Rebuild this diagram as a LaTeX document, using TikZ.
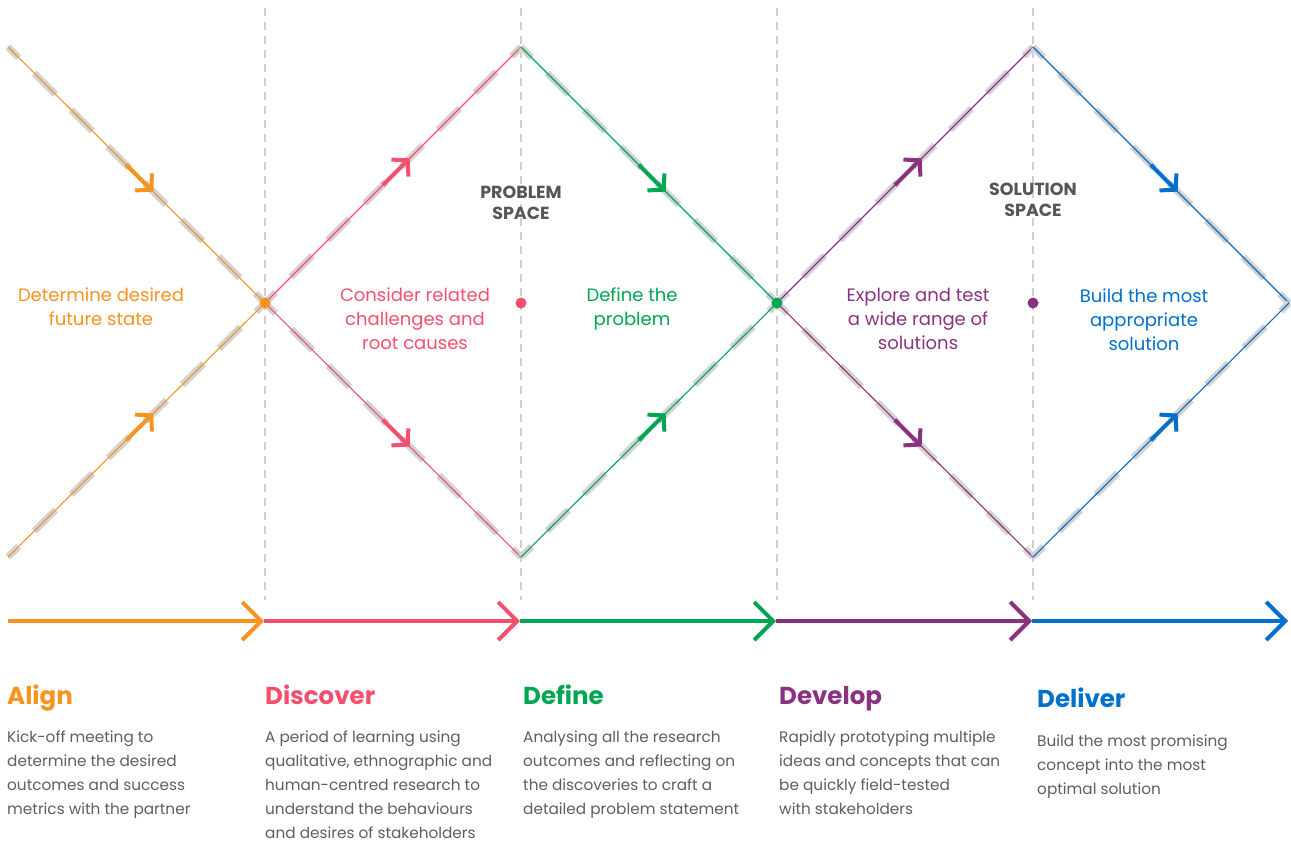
\documentclass[tikz,border=0pt]{standalone}
\usepackage{fontspec}
\setmainfont{Poppins}
\usetikzlibrary{arrows.meta,calc}
\definecolor{cOr}{HTML}{F7931E}
\definecolor{cPk}{HTML}{F4506E}
\definecolor{cGr}{HTML}{00A651}
\definecolor{cPu}{HTML}{8A327F}
\definecolor{cBl}{HTML}{0070CC}
\definecolor{cTx}{HTML}{5E5E5E}
\definecolor{cHd}{HTML}{53565A}
\definecolor{cDash}{HTML}{D3D3D3}
\definecolor{cVl}{HTML}{CFCFCF}
\tikzset{
  vline/.style={cVl, line width=1.5pt, dash pattern=on 8pt off 6pt},
  graydash/.style={cDash, line width=7pt, dash pattern=on 30pt off 22pt, dash phase=15pt},
  thinline/.style={line width=1.1pt},
  midarrow/.style={line width=4pt, -{Straight Barb[length=11pt,width=24pt]}},
  botarrow/.style={line width=4pt, -{Straight Barb[length=19pt,width=38pt]}},
  dtext/.style={anchor=base, align=center, font=\fontsize{18}{24}\selectfont, inner sep=0pt},
  htext/.style={anchor=base, align=center, font=\fontsize{17.5}{21}\selectfont\bfseries, text=cHd, inner sep=0pt},
  headtext/.style={anchor=base west, font=\fontsize{24.5}{28}\selectfont\bfseries, inner sep=0pt},
  bodytext/.style={anchor=base west, align=left, font=\fontsize{15.3}{24}\selectfont, text=cTx, inner sep=0pt},
  dot/.style={circle, minimum size=11pt, inner sep=0pt}
}
\newcommand{\segline}[3]{%
  \draw[graydash] (#2) -- (#3);
  \draw[thinline, #1] (#2) -- (#3);
  \draw[midarrow, #1] ($(#2)!0.46!(#3)$) -- ($(#2)!0.565!(#3)$);
}
\begin{document}
\begin{tikzpicture}[x=1pt,y=-1pt]
\useasboundingbox (0,0) rectangle (1291,841);
% vertical dashed lines
\foreach \x/\n in {265/1,521/2,777/3,1033/4}{
  \coordinate (vt\n) at (\x,8);
  \coordinate (vb\n) at (\x,600);
  \draw[vline] (vt\n) -- (vb\n);
}
% key points
\coordinate (L1) at (8,47);
\coordinate (L2) at (8,557);
\coordinate (X0) at (265,303);
\coordinate (T1) at (521,47);
\coordinate (B1) at (521,557);
\coordinate (X1) at (777,303);
\coordinate (T2) at (1033,47);
\coordinate (B2) at (1033,557);
\coordinate (R) at (1289,303);
\coordinate (C1) at (521,303);
\coordinate (C2) at (1033,303);
% diagonal segments
\segline{cOr}{L1}{X0}
\segline{cOr}{L2}{X0}
\segline{cPk}{X0}{T1}
\segline{cPk}{X0}{B1}
\segline{cGr}{T1}{X1}
\segline{cGr}{B1}{X1}
\segline{cPu}{X1}{T2}
\segline{cPu}{X1}{B2}
\segline{cBl}{T2}{R}
\segline{cBl}{B2}{R}
% dots
\node[dot, fill=cOr] (d0) at (X0) {};
\node[dot, fill=cPk] (d1) at (C1) {};
\node[dot, fill=cGr] (d2) at (X1) {};
\node[dot, fill=cPu] (d3) at (C2) {};
% diamond texts (anchor = baseline of last line)
\node[dtext, text=cOr] (t0) at (101,325) {Determine desired\\future state};
\node[dtext, text=cPk] (t1) at (415,349) {Consider related\\challenges and\\root causes};
\node[dtext, text=cGr] (t2) at (632,325) {Define the\\problem};
\node[dtext, text=cPu] (t3) at (918,349) {Explore and test\\a wide range of\\solutions};
\node[dtext, text=cBl] (t4) at (1144,350) {Build the most\\appropriate\\solution};
\node[htext] (ps) at (521,219) {PROBLEM\\SPACE};
\node[htext] (ss) at (1033,216) {SOLUTION\\SPACE};
% bottom arrows
\coordinate (a0) at (8,621);
\coordinate (a1) at (264,621);
\coordinate (a2) at (520,621);
\coordinate (a3) at (776,621);
\coordinate (a4) at (1032,621);
\coordinate (a5) at (1288,621);
\draw[botarrow, cOr] (a0) -- (a1);
\draw[botarrow, cPk] (a1) -- (a2);
\draw[botarrow, cGr] (a2) -- (a3);
\draw[botarrow, cPu] (a3) -- (a4);
\draw[botarrow, cBl] (a4) -- (a5);
% headings
\node[headtext, text=cOr] (h0) at (7,704) {Align};
\node[headtext, text=cPk] (h1) at (265,704) {Discover};
\node[headtext, text=cGr] (h2) at (523,704) {Define};
\node[headtext, text=cPu] (h3) at (779,704) {Develop};
\node[headtext, text=cBl] (h4) at (1037,707) {Deliver};
% body texts (anchor = baseline of last line)
\node[bodytext] (b0) at (7,814) {Kick-off meeting to\\determine the desired\\outcomes and success\\metrics with the partner};
\node[bodytext] (b1) at (265,838) {A period of learning using\\qualitative, ethnographic and\\human-centred research to\\understand the behaviours\\and desires of stakeholders};
\node[bodytext] (b2) at (523,814) {Analysing all the research\\outcomes and reflecting on\\the discoveries to craft a\\detailed problem statement};
\node[bodytext] (b3) at (779,814) {Rapidly prototyping multiple\\ideas and concepts that can\\be quickly field-tested\\with stakeholders};
\node[bodytext] (b4) at (1037,794) {Build the most promising\\concept into the most\\optimal solution};
\end{tikzpicture}
\end{document}
